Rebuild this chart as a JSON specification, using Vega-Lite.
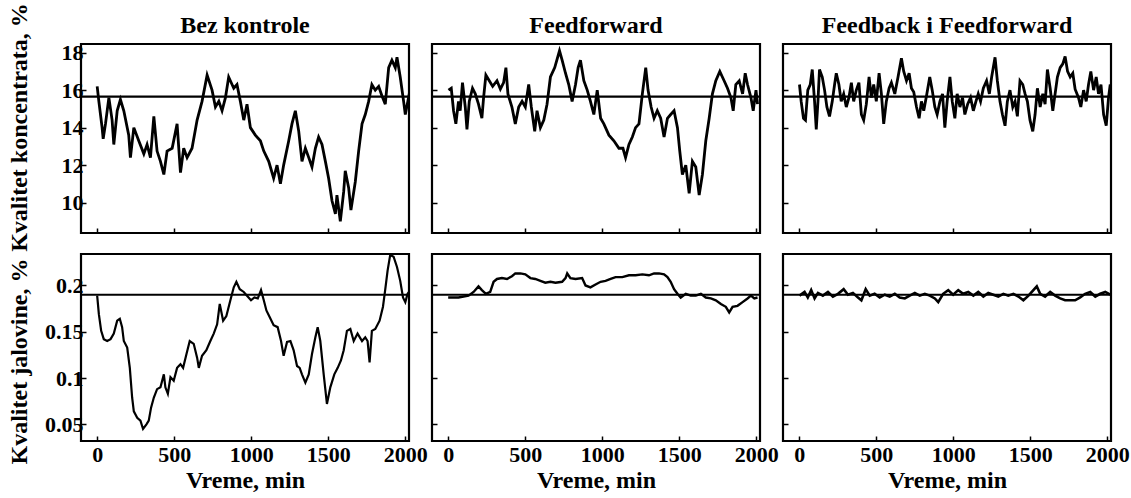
{
"$schema": "https://vega.github.io/schema/vega-lite/v6.json",
"padding": {"left": 5, "top": 1, "right": 5, "bottom": 0},
"background": "white",
"config": {
  "view": {"stroke": "black", "strokeWidth": 2.2},
  "axis": {"grid": false, "domain": false, "tickColor": "black", "tickSize": -5, "tickWidth": 1.5,
    "labelFont": "Liberation Serif", "labelFontWeight": "bold", "labelFontSize": 22, "labelColor": "black",
    "labelFlush": false, "labelOverlap": false, "labelBound": false,
    "titleFont": "Liberation Serif", "titleFontWeight": "bold", "titleFontSize": 24, "titleColor": "black"},
  "axisX": {"labelPadding": 8, "titlePadding": 3},
  "axisY": {"labelPadding": 3},
  "title": {"font": "Liberation Serif", "fontWeight": "bold", "fontSize": 24, "color": "black", "offset": 6, "frame": "group"}
},
"datasets": {
  "c1": [{"t":0,"v":16.2},{"t":11,"v":15.4},{"t":32,"v":14},{"t":39,"v":13.4},{"t":54,"v":14.2},{"t":76,"v":15.6},{"t":97,"v":14.4},{"t":108,"v":13.1},{"t":130,"v":14.9},{"t":151,"v":15.5},{"t":173,"v":14.9},{"t":205,"v":13.6},{"t":216,"v":12.4},{"t":238,"v":14},{"t":270,"v":13.3},{"t":303,"v":12.6},{"t":324,"v":13.1},{"t":346,"v":12.4},{"t":368,"v":14.6},{"t":389,"v":12.75},{"t":411,"v":12.2},{"t":433,"v":11.5},{"t":454,"v":12.75},{"t":487,"v":12.9},{"t":519,"v":14.2},{"t":541,"v":11.6},{"t":562,"v":12.9},{"t":584,"v":12.4},{"t":616,"v":12.9},{"t":649,"v":14.4},{"t":681,"v":15.4},{"t":714,"v":16.8},{"t":746,"v":16},{"t":768,"v":15.1},{"t":790,"v":15.4},{"t":811,"v":14.9},{"t":833,"v":15.6},{"t":854,"v":16.7},{"t":887,"v":16.1},{"t":908,"v":16.3},{"t":930,"v":15.4},{"t":952,"v":14.4},{"t":973,"v":15.25},{"t":995,"v":14},{"t":1027,"v":13.6},{"t":1060,"v":13.3},{"t":1082,"v":12.75},{"t":1114,"v":12.2},{"t":1146,"v":11.3},{"t":1168,"v":12},{"t":1190,"v":11},{"t":1211,"v":12},{"t":1244,"v":13.3},{"t":1265,"v":14.2},{"t":1287,"v":14.9},{"t":1309,"v":13.8},{"t":1330,"v":12.2},{"t":1352,"v":12.9},{"t":1374,"v":12.4},{"t":1395,"v":11.9},{"t":1417,"v":12.9},{"t":1438,"v":13.5},{"t":1460,"v":13.1},{"t":1482,"v":12.2},{"t":1503,"v":11.3},{"t":1525,"v":10.1},{"t":1547,"v":9.4},{"t":1557,"v":10.4},{"t":1579,"v":9},{"t":1601,"v":10.6},{"t":1611,"v":11.7},{"t":1633,"v":10.8},{"t":1648,"v":9.6},{"t":1676,"v":11.1},{"t":1698,"v":12.75},{"t":1720,"v":14.2},{"t":1741,"v":14.7},{"t":1763,"v":15.4},{"t":1784,"v":16.3},{"t":1806,"v":16},{"t":1828,"v":16.2},{"t":1849,"v":15.7},{"t":1871,"v":15.25},{"t":1893,"v":17.2},{"t":1914,"v":17.6},{"t":1936,"v":17.2},{"t":1947,"v":17.75},{"t":1968,"v":16.7},{"t":1990,"v":15.4},{"t":2001,"v":14.7},{"t":2022,"v":15.6},{"t":2038,"v":15.25}],
  "c2": [{"t":2,"v":16},{"t":20,"v":16.1},{"t":35,"v":14.9},{"t":50,"v":14.2},{"t":67,"v":15.4},{"t":78,"v":14.9},{"t":93,"v":16.4},{"t":111,"v":15.1},{"t":122,"v":13.9},{"t":137,"v":15.4},{"t":158,"v":16.1},{"t":176,"v":15.8},{"t":197,"v":15.25},{"t":219,"v":14.5},{"t":230,"v":15.6},{"t":245,"v":16.8},{"t":267,"v":16.5},{"t":289,"v":16.2},{"t":317,"v":16.5},{"t":339,"v":16.05},{"t":360,"v":16.4},{"t":375,"v":17.2},{"t":388,"v":15.8},{"t":414,"v":15.1},{"t":436,"v":14.2},{"t":458,"v":15.1},{"t":480,"v":15.4},{"t":501,"v":15.1},{"t":523,"v":16.3},{"t":540,"v":15.1},{"t":562,"v":13.8},{"t":577,"v":14.9},{"t":599,"v":14},{"t":621,"v":14.4},{"t":642,"v":15.25},{"t":664,"v":16.7},{"t":692,"v":17.2},{"t":723,"v":18.1},{"t":740,"v":17.6},{"t":762,"v":16.9},{"t":783,"v":16.3},{"t":805,"v":15.4},{"t":827,"v":16.3},{"t":844,"v":17.2},{"t":859,"v":17.6},{"t":881,"v":16.5},{"t":903,"v":16},{"t":924,"v":15.4},{"t":946,"v":14.7},{"t":968,"v":16},{"t":990,"v":14.5},{"t":1011,"v":14.2},{"t":1044,"v":13.6},{"t":1076,"v":13.3},{"t":1109,"v":12.9},{"t":1135,"v":12.9},{"t":1152,"v":12.4},{"t":1174,"v":13.1},{"t":1196,"v":13.5},{"t":1217,"v":14},{"t":1239,"v":14.2},{"t":1261,"v":15.8},{"t":1283,"v":17.2},{"t":1298,"v":16},{"t":1318,"v":15.1},{"t":1337,"v":14.5},{"t":1358,"v":14.9},{"t":1380,"v":14.5},{"t":1402,"v":13.5},{"t":1424,"v":14.5},{"t":1445,"v":14.7},{"t":1467,"v":14.9},{"t":1489,"v":14},{"t":1504,"v":12.75},{"t":1521,"v":11.5},{"t":1543,"v":12},{"t":1565,"v":10.5},{"t":1586,"v":12.2},{"t":1608,"v":11.9},{"t":1630,"v":10.4},{"t":1651,"v":11.5},{"t":1673,"v":13.3},{"t":1695,"v":14.5},{"t":1716,"v":15.8},{"t":1738,"v":16.5},{"t":1764,"v":17},{"t":1792,"v":16.5},{"t":1814,"v":16.1},{"t":1836,"v":15.6},{"t":1851,"v":14.9},{"t":1868,"v":16.3},{"t":1890,"v":16.5},{"t":1912,"v":15.8},{"t":1929,"v":16.9},{"t":1944,"v":16.3},{"t":1966,"v":15.6},{"t":1981,"v":14.9},{"t":1999,"v":16},{"t":2009,"v":15.25}],
  "c3": [{"t":2,"v":16.3},{"t":13,"v":15.4},{"t":28,"v":14.5},{"t":41,"v":14.4},{"t":56,"v":16},{"t":72,"v":16.3},{"t":85,"v":17.1},{"t":100,"v":15.4},{"t":111,"v":13.9},{"t":122,"v":15.4},{"t":132,"v":17.1},{"t":150,"v":16.7},{"t":165,"v":16},{"t":180,"v":15.1},{"t":197,"v":14.6},{"t":215,"v":15.4},{"t":230,"v":16.3},{"t":241,"v":16.9},{"t":258,"v":16.3},{"t":273,"v":15.4},{"t":289,"v":15.8},{"t":306,"v":15.1},{"t":323,"v":15.6},{"t":339,"v":16.4},{"t":354,"v":15.4},{"t":371,"v":16},{"t":388,"v":16.4},{"t":404,"v":14.7},{"t":419,"v":14.4},{"t":436,"v":15.25},{"t":454,"v":16.7},{"t":469,"v":15.6},{"t":484,"v":16.3},{"t":501,"v":15.4},{"t":519,"v":16.9},{"t":534,"v":15.8},{"t":549,"v":14.2},{"t":566,"v":15.4},{"t":584,"v":16.1},{"t":599,"v":16.4},{"t":621,"v":15.8},{"t":642,"v":16.7},{"t":664,"v":17.7},{"t":679,"v":17},{"t":697,"v":16.5},{"t":714,"v":16.9},{"t":729,"v":16.1},{"t":744,"v":15.9},{"t":762,"v":15.1},{"t":779,"v":14.5},{"t":794,"v":15.4},{"t":809,"v":14.9},{"t":827,"v":15.7},{"t":848,"v":16.7},{"t":864,"v":16},{"t":881,"v":15.1},{"t":896,"v":14.7},{"t":914,"v":15.4},{"t":931,"v":15.8},{"t":946,"v":14},{"t":961,"v":15.4},{"t":979,"v":16.7},{"t":994,"v":15.4},{"t":1011,"v":14.5},{"t":1026,"v":15.8},{"t":1044,"v":15.1},{"t":1061,"v":15.6},{"t":1076,"v":14.7},{"t":1094,"v":15.25},{"t":1113,"v":15.6},{"t":1131,"v":14.9},{"t":1148,"v":15.4},{"t":1163,"v":15.8},{"t":1178,"v":15.4},{"t":1196,"v":16.1},{"t":1217,"v":16.5},{"t":1235,"v":15.8},{"t":1250,"v":16.7},{"t":1272,"v":17.75},{"t":1287,"v":16.5},{"t":1304,"v":15.4},{"t":1320,"v":14.7},{"t":1337,"v":14.1},{"t":1352,"v":15.4},{"t":1369,"v":16},{"t":1387,"v":15.1},{"t":1402,"v":15.4},{"t":1417,"v":14.6},{"t":1434,"v":16.5},{"t":1452,"v":16.3},{"t":1467,"v":15.8},{"t":1482,"v":15.4},{"t":1499,"v":14.4},{"t":1517,"v":13.8},{"t":1532,"v":14.7},{"t":1547,"v":16.1},{"t":1565,"v":15.1},{"t":1582,"v":15.8},{"t":1597,"v":15.25},{"t":1612,"v":17.1},{"t":1630,"v":16.1},{"t":1647,"v":14.9},{"t":1662,"v":15.8},{"t":1677,"v":16.7},{"t":1695,"v":17.2},{"t":1712,"v":17.4},{"t":1727,"v":17.8},{"t":1743,"v":17},{"t":1760,"v":16.7},{"t":1777,"v":16.9},{"t":1792,"v":16.05},{"t":1814,"v":15.6},{"t":1829,"v":15.1},{"t":1847,"v":16},{"t":1864,"v":15.4},{"t":1879,"v":16.3},{"t":1894,"v":17},{"t":1912,"v":16},{"t":1929,"v":16.7},{"t":1944,"v":15.8},{"t":1960,"v":16.3},{"t":1977,"v":14.7},{"t":1994,"v":14.1},{"t":2009,"v":15.6},{"t":2020,"v":16.3}],
  "j1": [{"t":0,"v":0.189},{"t":11,"v":0.169},{"t":26,"v":0.151},{"t":43,"v":0.142},{"t":65,"v":0.14},{"t":87,"v":0.142},{"t":108,"v":0.148},{"t":130,"v":0.162},{"t":147,"v":0.164},{"t":162,"v":0.155},{"t":173,"v":0.14},{"t":195,"v":0.133},{"t":212,"v":0.111},{"t":227,"v":0.079},{"t":238,"v":0.064},{"t":260,"v":0.057},{"t":281,"v":0.054},{"t":298,"v":0.045},{"t":320,"v":0.05},{"t":335,"v":0.054},{"t":350,"v":0.068},{"t":368,"v":0.079},{"t":389,"v":0.088},{"t":411,"v":0.09},{"t":433,"v":0.104},{"t":443,"v":0.09},{"t":459,"v":0.083},{"t":476,"v":0.101},{"t":497,"v":0.097},{"t":519,"v":0.111},{"t":541,"v":0.115},{"t":558,"v":0.111},{"t":580,"v":0.126},{"t":601,"v":0.14},{"t":627,"v":0.137},{"t":649,"v":0.122},{"t":660,"v":0.111},{"t":681,"v":0.124},{"t":709,"v":0.13},{"t":735,"v":0.14},{"t":757,"v":0.148},{"t":779,"v":0.158},{"t":796,"v":0.18},{"t":818,"v":0.162},{"t":839,"v":0.167},{"t":865,"v":0.184},{"t":887,"v":0.198},{"t":904,"v":0.204},{"t":926,"v":0.196},{"t":952,"v":0.193},{"t":973,"v":0.189},{"t":999,"v":0.184},{"t":1021,"v":0.187},{"t":1043,"v":0.186},{"t":1064,"v":0.195},{"t":1082,"v":0.184},{"t":1099,"v":0.173},{"t":1120,"v":0.166},{"t":1146,"v":0.157},{"t":1172,"v":0.155},{"t":1194,"v":0.14},{"t":1211,"v":0.124},{"t":1233,"v":0.139},{"t":1255,"v":0.14},{"t":1276,"v":0.13},{"t":1298,"v":0.113},{"t":1315,"v":0.111},{"t":1330,"v":0.104},{"t":1352,"v":0.095},{"t":1374,"v":0.104},{"t":1395,"v":0.126},{"t":1417,"v":0.144},{"t":1432,"v":0.155},{"t":1449,"v":0.14},{"t":1471,"v":0.104},{"t":1492,"v":0.072},{"t":1514,"v":0.09},{"t":1540,"v":0.104},{"t":1562,"v":0.111},{"t":1583,"v":0.119},{"t":1601,"v":0.13},{"t":1622,"v":0.151},{"t":1644,"v":0.153},{"t":1666,"v":0.14},{"t":1691,"v":0.148},{"t":1720,"v":0.14},{"t":1741,"v":0.144},{"t":1756,"v":0.14},{"t":1769,"v":0.117},{"t":1784,"v":0.151},{"t":1806,"v":0.153},{"t":1834,"v":0.162},{"t":1856,"v":0.177},{"t":1871,"v":0.196},{"t":1886,"v":0.216},{"t":1903,"v":0.233},{"t":1925,"v":0.231},{"t":1947,"v":0.22},{"t":1968,"v":0.205},{"t":1986,"v":0.187},{"t":2001,"v":0.182},{"t":2016,"v":0.191},{"t":2033,"v":0.195}],
  "j2": [{"t":0,"v":0.187},{"t":67,"v":0.187},{"t":132,"v":0.189},{"t":165,"v":0.193},{"t":197,"v":0.199},{"t":219,"v":0.195},{"t":245,"v":0.191},{"t":273,"v":0.193},{"t":295,"v":0.204},{"t":317,"v":0.207},{"t":349,"v":0.208},{"t":382,"v":0.207},{"t":414,"v":0.21},{"t":436,"v":0.213},{"t":469,"v":0.213},{"t":501,"v":0.212},{"t":534,"v":0.208},{"t":566,"v":0.207},{"t":599,"v":0.205},{"t":631,"v":0.203},{"t":664,"v":0.204},{"t":697,"v":0.203},{"t":740,"v":0.204},{"t":762,"v":0.208},{"t":773,"v":0.213},{"t":794,"v":0.208},{"t":827,"v":0.207},{"t":870,"v":0.208},{"t":892,"v":0.2},{"t":924,"v":0.198},{"t":957,"v":0.201},{"t":990,"v":0.204},{"t":1022,"v":0.205},{"t":1055,"v":0.207},{"t":1087,"v":0.209},{"t":1131,"v":0.209},{"t":1174,"v":0.211},{"t":1217,"v":0.211},{"t":1261,"v":0.212},{"t":1304,"v":0.211},{"t":1337,"v":0.213},{"t":1369,"v":0.213},{"t":1402,"v":0.212},{"t":1424,"v":0.209},{"t":1445,"v":0.204},{"t":1467,"v":0.196},{"t":1489,"v":0.191},{"t":1510,"v":0.187},{"t":1543,"v":0.191},{"t":1575,"v":0.189},{"t":1608,"v":0.189},{"t":1641,"v":0.191},{"t":1673,"v":0.187},{"t":1706,"v":0.186},{"t":1738,"v":0.184},{"t":1771,"v":0.18},{"t":1803,"v":0.177},{"t":1825,"v":0.171},{"t":1847,"v":0.177},{"t":1879,"v":0.178},{"t":1912,"v":0.182},{"t":1944,"v":0.186},{"t":1966,"v":0.189},{"t":1988,"v":0.186},{"t":2009,"v":0.187}],
  "j3": [{"t":2,"v":0.189},{"t":35,"v":0.193},{"t":56,"v":0.187},{"t":78,"v":0.195},{"t":100,"v":0.186},{"t":122,"v":0.192},{"t":154,"v":0.189},{"t":187,"v":0.193},{"t":219,"v":0.188},{"t":252,"v":0.191},{"t":289,"v":0.196},{"t":317,"v":0.19},{"t":349,"v":0.192},{"t":382,"v":0.187},{"t":404,"v":0.184},{"t":432,"v":0.196},{"t":458,"v":0.189},{"t":490,"v":0.191},{"t":523,"v":0.187},{"t":556,"v":0.19},{"t":588,"v":0.188},{"t":621,"v":0.191},{"t":653,"v":0.187},{"t":686,"v":0.186},{"t":718,"v":0.189},{"t":751,"v":0.192},{"t":783,"v":0.189},{"t":816,"v":0.191},{"t":848,"v":0.189},{"t":881,"v":0.186},{"t":903,"v":0.182},{"t":935,"v":0.191},{"t":968,"v":0.195},{"t":1000,"v":0.19},{"t":1033,"v":0.195},{"t":1065,"v":0.191},{"t":1098,"v":0.193},{"t":1131,"v":0.189},{"t":1163,"v":0.193},{"t":1196,"v":0.188},{"t":1228,"v":0.192},{"t":1261,"v":0.19},{"t":1293,"v":0.188},{"t":1326,"v":0.191},{"t":1358,"v":0.189},{"t":1391,"v":0.191},{"t":1424,"v":0.188},{"t":1456,"v":0.184},{"t":1489,"v":0.189},{"t":1521,"v":0.195},{"t":1543,"v":0.199},{"t":1565,"v":0.191},{"t":1597,"v":0.188},{"t":1630,"v":0.193},{"t":1662,"v":0.189},{"t":1695,"v":0.186},{"t":1727,"v":0.184},{"t":1760,"v":0.184},{"t":1792,"v":0.184},{"t":1825,"v":0.187},{"t":1857,"v":0.191},{"t":1890,"v":0.193},{"t":1923,"v":0.188},{"t":1955,"v":0.191},{"t":1988,"v":0.193},{"t":2020,"v":0.19}]
},
"concat": [
  {"width": 328, "height": 189, "title": {"text": "Bez kontrole", "dy": 41},
   "layer": [
    {"data": {"name": "c1"}, "mark": {"type": "line", "color": "black", "strokeWidth": 2.8, "clip": true},
     "encoding": {
      "x": {"field": "t", "type": "quantitative", "scale": {"domain": [-105, 2025], "nice": false, "zero": false}, "axis": {"values": [0,500,1000,1500,2000], "labels": false, "title": null}},
      "y": {"field": "v", "type": "quantitative", "scale": {"domain": [8.38, 18.46], "nice": false, "zero": false}, "axis": {"values": [10,12,14,16,18], "title": "Kvalitet koncentrata, %", "titleX": -50, "titleY": 83}}}},
    {"data": {"values": [{"sp": 15.65}]}, "mark": {"type": "rule", "color": "black", "strokeWidth": 2.2}, "encoding": {"y": {"field": "sp", "type": "quantitative"}}}
   ]},
  {"width": 328, "height": 189, "title": {"text": "Feedforward"},
   "layer": [
    {"data": {"name": "c2"}, "mark": {"type": "line", "color": "black", "strokeWidth": 2.8, "clip": true},
     "encoding": {
      "x": {"field": "t", "type": "quantitative", "scale": {"domain": [-105, 2025], "nice": false, "zero": false}, "axis": {"values": [0,500,1000,1500,2000], "labels": false, "title": null}},
      "y": {"field": "v", "type": "quantitative", "scale": {"domain": [8.38, 18.46], "nice": false, "zero": false}, "axis": {"values": [10,12,14,16,18], "labels": false, "title": null}}}},
    {"data": {"values": [{"sp": 15.65}]}, "mark": {"type": "rule", "color": "black", "strokeWidth": 2.2}, "encoding": {"y": {"field": "sp", "type": "quantitative"}}}
   ]},
  {"width": 328, "height": 189, "title": {"text": "Feedback i Feedforward"},
   "layer": [
    {"data": {"name": "c3"}, "mark": {"type": "line", "color": "black", "strokeWidth": 2.8, "clip": true},
     "encoding": {
      "x": {"field": "t", "type": "quantitative", "scale": {"domain": [-105, 2025], "nice": false, "zero": false}, "axis": {"values": [0,500,1000,1500,2000], "labels": false, "title": null}},
      "y": {"field": "v", "type": "quantitative", "scale": {"domain": [8.38, 18.46], "nice": false, "zero": false}, "axis": {"values": [10,12,14,16,18], "labels": false, "title": null}}}},
    {"data": {"values": [{"sp": 15.65}]}, "mark": {"type": "rule", "color": "black", "strokeWidth": 2.2}, "encoding": {"y": {"field": "sp", "type": "quantitative"}}}
   ]},
  {"width": 328, "height": 187,
   "layer": [
    {"data": {"name": "j1"}, "mark": {"type": "line", "color": "black", "strokeWidth": 2.2, "clip": true},
     "encoding": {
      "x": {"field": "t", "type": "quantitative", "scale": {"domain": [-105, 2025], "nice": false, "zero": false}, "axis": {"values": [0,500,1000,1500,2000], "format": "d", "title": "Vreme, min"}},
      "y": {"field": "v", "type": "quantitative", "scale": {"domain": [0.032, 0.234], "nice": false, "zero": false}, "axis": {"values": [0.05,0.1,0.15,0.2], "labelExpr": "'' + datum.value", "title": "Kvalitet jalovine, %", "titleX": -50, "titleY": 107}}}},
    {"data": {"values": [{"sp": 0.19}]}, "mark": {"type": "rule", "color": "black", "strokeWidth": 2.2}, "encoding": {"y": {"field": "sp", "type": "quantitative"}}}
   ]},
  {"width": 328, "height": 187,
   "layer": [
    {"data": {"name": "j2"}, "mark": {"type": "line", "color": "black", "strokeWidth": 2.4, "clip": true},
     "encoding": {
      "x": {"field": "t", "type": "quantitative", "scale": {"domain": [-105, 2025], "nice": false, "zero": false}, "axis": {"values": [0,500,1000,1500,2000], "format": "d", "title": "Vreme, min"}},
      "y": {"field": "v", "type": "quantitative", "scale": {"domain": [0.032, 0.234], "nice": false, "zero": false}, "axis": {"values": [0.05,0.1,0.15,0.2], "labels": false, "title": null}}}},
    {"data": {"values": [{"sp": 0.19}]}, "mark": {"type": "rule", "color": "black", "strokeWidth": 2.2}, "encoding": {"y": {"field": "sp", "type": "quantitative"}}}
   ]},
  {"width": 328, "height": 187,
   "layer": [
    {"data": {"name": "j3"}, "mark": {"type": "line", "color": "black", "strokeWidth": 2.6, "clip": true},
     "encoding": {
      "x": {"field": "t", "type": "quantitative", "scale": {"domain": [-105, 2025], "nice": false, "zero": false}, "axis": {"values": [0,500,1000,1500,2000], "format": "d", "title": "Vreme, min"}},
      "y": {"field": "v", "type": "quantitative", "scale": {"domain": [0.032, 0.234], "nice": false, "zero": false}, "axis": {"values": [0.05,0.1,0.15,0.2], "labels": false, "title": null}}}},
    {"data": {"values": [{"sp": 0.19}]}, "mark": {"type": "rule", "color": "black", "strokeWidth": 2.2}, "encoding": {"y": {"field": "sp", "type": "quantitative"}}}
   ]}
],
"columns": 3,
"bounds": "flush",
"spacing": {"row": 21, "column": 23}
}
